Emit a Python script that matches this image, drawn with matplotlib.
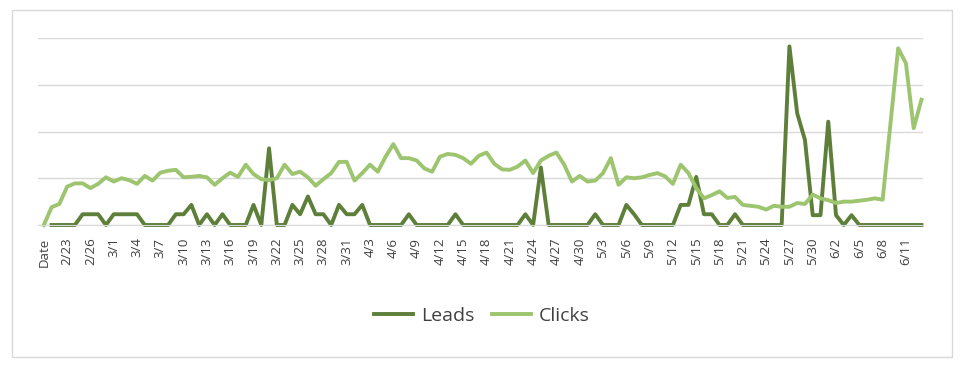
import numpy as np
import pandas as pd
import matplotlib.pyplot as plt
from matplotlib.patches import Rectangle

# categories: header row "Date" then one point per day
dates = pd.date_range("2023-02-21", "2023-06-13")
categories = ["Date"] + [f"{d.month}/{d.day}" for d in dates]

leads = [np.nan, 0, 0, 0, 0, 2.3, 2.3, 2.3, 0, 2.3,
         2.3, 2.3, 2.3, 0, 0, 0, 0, 2.3, 2.3, 4.3,
         0, 2.3, 0, 2.3, 0, 0, 0, 4.3, 0, 16.4,
         0, 0, 4.3, 2.3, 6.1, 2.3, 2.3, 0, 4.3, 2.3,
         2.3, 4.3, 0, 0, 0, 0, 0, 2.3, 0, 0,
         0, 0, 0, 2.3, 0, 0, 0, 0, 0, 0,
         0, 0, 2.3, 0, 12.3, 0, 0, 0, 0, 0,
         0, 2.3, 0, 0, 0, 4.3, 2.3, 0, 0, 0,
         0, 0, 4.3, 4.3, 10.3, 2.3, 2.3, 0, 0, 2.3,
         0, 0, 0, 0, 0, 0, 38.2, 23.9, 18.2, 2.1,
         2.1, 22.1, 2.1, 0, 2.1, 0, 0, 0, 0, 0,
         0, 0, 0, 0]

clicks = [0, 3.8, 4.5, 8.2, 8.9, 8.9, 7.9, 8.8, 10.2, 9.3,
          10.0, 9.6, 8.8, 10.5, 9.5, 11.2, 11.6, 11.8, 10.2, 10.3,
          10.5, 10.2, 8.6, 10.0, 11.2, 10.3, 12.9, 10.9, 9.8, 9.6,
          10.0, 12.9, 10.9, 11.4, 10.2, 8.4, 9.8, 11.1, 13.5, 13.5,
          9.5, 11.1, 12.9, 11.4, 14.6, 17.3, 14.3, 14.3, 13.8, 12.1,
          11.4, 14.6, 15.2, 15.0, 14.3, 13.1, 14.8, 15.5, 13.1, 11.9,
          11.8, 12.5, 13.8, 11.1, 13.8, 14.8, 15.5, 12.9, 9.3, 10.5,
          9.3, 9.5, 11.1, 14.3, 8.6, 10.2, 10.0, 10.2, 10.7, 11.1,
          10.4, 8.8, 12.9, 11.1, 7.9, 5.7, 6.4, 7.2, 5.8, 6.0,
          4.3, 4.1, 3.9, 3.3, 4.1, 3.9, 3.9, 4.7, 4.5, 6.5,
          5.7, 5.3, 4.7, 5.0, 5.0, 5.2, 5.4, 5.7, 5.4, 21.5,
          37.8, 34.6, 20.7, 26.8]

plt.rcParams['font.family'] = ['Open Sans', 'DejaVu Sans']

fig = plt.figure(figsize=(9.64, 3.70), dpi=100)
fig.patches.append(Rectangle((12 / 964, 13 / 370), 940 / 964, 347 / 370,
                             transform=fig.transFigure, fill=False,
                             edgecolor='#d9d9d9', linewidth=1))

ax = fig.add_axes([38 / 964, 145 / 370, 885 / 964, 187 / 370])
x = np.arange(len(categories))
ax.plot(x, leads, color='#5E7F3A', lw=2.8, label='Leads', clip_on=False)
ax.plot(x, clicks, color='#9DC46F', lw=2.8, label='Clicks', clip_on=False)

ax.set_xlim(-0.75, 113.2)
ax.set_ylim(0, 40)
ax.set_yticks([0, 10, 20, 30, 40])
ax.yaxis.grid(True, color='#d9d9d9', lw=1)
ax.set_axisbelow(True)
ax.tick_params(axis='y', left=False, labelleft=False)

ax.set_xticks(x[::3])
ax.set_xticklabels(categories[::3], rotation=90, fontsize=9.5, color='#404040')
ax.tick_params(axis='x', length=0, pad=9)

for s in ['top', 'right', 'left']:
    ax.spines[s].set_visible(False)
ax.spines['bottom'].set_color('#d9d9d9')

fig.legend(loc='center', bbox_to_anchor=(0.5, 54 / 370), ncol=2,
           frameon=False, fontsize=14, labelcolor='#404040',
           handlelength=2.0, columnspacing=0.9, handletextpad=0.4)

plt.savefig("out.png", dpi=100)
